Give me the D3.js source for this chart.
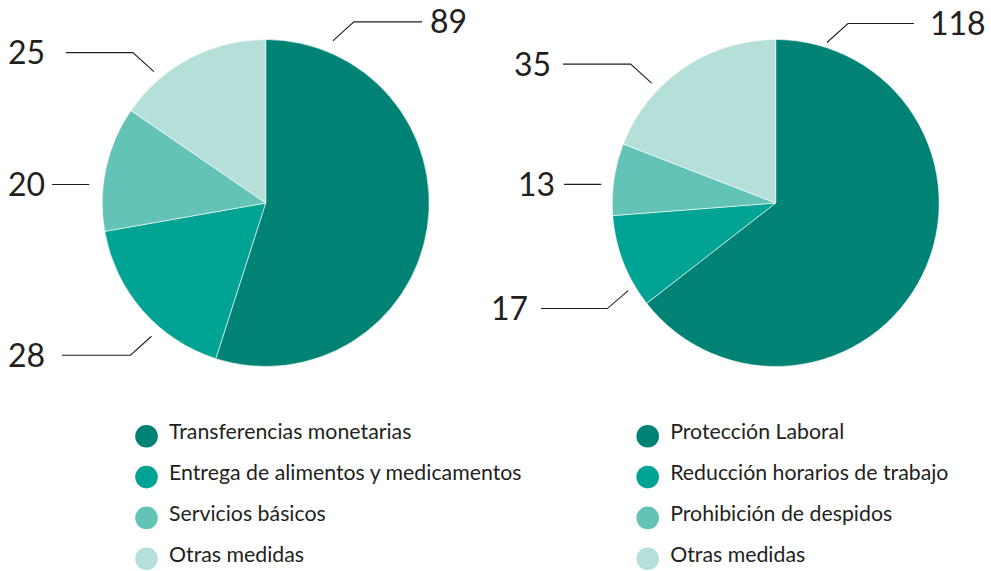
<!DOCTYPE html>
<html>
<head>
<meta charset="utf-8">
<script src="https://cdn.jsdelivr.net/npm/d3@7"></script>
<style>
  body { margin: 0; background: #fff; }
  svg { display: block; font-family: Lato, "Open Sans", sans-serif; }
</style>
</head>
<body>
<div id="chart"></div>
<script>
// data
const leftCategories = ["Transferencias monetarias", "Entrega de alimentos y medicamentos", "Servicios básicos", "Otras medidas"];
const leftValues = [89, 28, 20, 25];
const rightCategories = ["Protección Laboral", "Reducción horarios de trabajo", "Prohibición de despidos", "Otras medidas"];
const rightValues = [118, 17, 13, 35];
const sliceColors = ["#008375", "#00a394", "#62c3b6", "#b5e0da"];

// where each value label sits (angle in degrees, clockwise from 12 o'clock)
const leftLabelLayout = [
    {angle: 22.5, gap: 12, elbow: [21, -19], lineEnd: 422, textX: 430, anchor: "start"},
    {angle: 220.6, gap: 12, elbow: [-21, 19], lineEnd: 62, textX: 8, anchor: "start"},
    {angle: 276, gap: 14, elbow: [0, 0], lineEnd: 52, textX: 8, anchor: "start"},
    {angle: 319.6, gap: 9, elbow: [-21, -19], lineEnd: 66, textX: 8, anchor: "start"}
];
const rightLabelLayout = [
    {angle: 17.7, gap: 5, elbow: [21, -19], lineEnd: 914, textX: 930, anchor: "start"},
    {angle: 239.3, gap: 8, elbow: [-21, 18], lineEnd: 541, textX: 528, anchor: "end"},
    {angle: 276.1, gap: 12, elbow: [0, 0], lineEnd: 564, textX: 555, anchor: "end"},
    {angle: 314, gap: 9, elbow: [-21, -19], lineEnd: 563, textX: 551, anchor: "end"}
];

const width = 991, height = 571;
const radius = 163.5;

const svg = d3.select("#chart")
    .append("svg")
    .attr("width", width)
    .attr("height", height);

function drawPie(values, cx, cy, layout) {
    const g = svg.append("g")
        .attr("transform", "translate(" + cx + "," + cy + ")");

    const pie = d3.pie().sort(null).value(d => d);
    const arc = d3.arc().innerRadius(0).outerRadius(radius);

    g.selectAll("path.slice")
        .data(pie(values))
        .enter()
        .append("path")
        .attr("class", "slice")
        .attr("d", arc)
        .attr("fill", (d, i) => sliceColors[i])
        .attr("stroke", "#ffffff")
        .attr("stroke-width", 0.6);

    // value labels with leader lines
    pie(values).forEach(function(d, i) {
        const l = layout[i];
        const a = l.angle * Math.PI / 180;
        const r = radius + l.gap;
        const x0 = Math.sin(a) * r, y0 = -Math.cos(a) * r;
        const x1 = x0 + l.elbow[0], y1 = y0 + l.elbow[1];
        const x2 = l.lineEnd - cx;

        g.append("path")
            .attr("d", d3.line()([[x0, y0], [x1, y1], [x2, y1]]))
            .attr("fill", "none")
            .attr("stroke", "#231f20")
            .attr("stroke-width", 1.1);

        g.append("text")
            .attr("x", l.textX - cx)
            .attr("y", y1)
            .attr("dy", "0.36em")
            .attr("text-anchor", l.anchor)
            .attr("font-size", 32)
            .attr("fill", "#231f20")
            .text(d.data);
    });
}

drawPie(leftValues, 265.7, 203, leftLabelLayout);
drawPie(rightValues, 775.7, 203, rightLabelLayout);

function drawLegend(categories, x, y0) {
    const step = 40.8;
    const item = svg.append("g")
        .selectAll("g")
        .data(categories)
        .enter()
        .append("g")
        .attr("transform", (d, i) => "translate(" + x + "," + (y0 + i * step) + ")");

    item.append("circle")
        .attr("r", 11.3)
        .attr("fill", (d, i) => sliceColors[i]);

    item.append("text")
        .attr("x", 22.5)
        .attr("y", 3)
        .attr("font-size", 21.3)
        .attr("fill", "#231f20")
        .text(d => d);
}

drawLegend(leftCategories, 146.5, 436.3);
drawLegend(rightCategories, 647.7, 436.3);
</script>
</body>
</html>
